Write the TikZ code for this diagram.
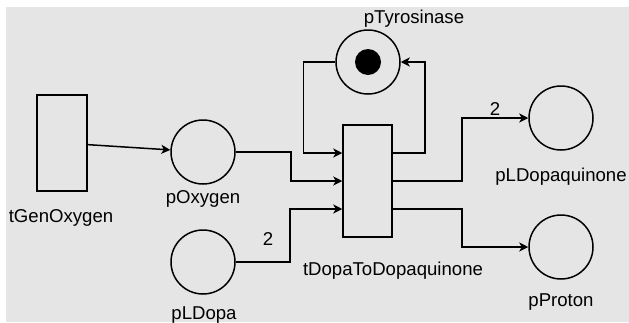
\documentclass[tikz,border=0pt]{standalone}
\usepackage{fontspec}
\setmainfont{Liberation Sans}
\usetikzlibrary{arrows.meta, positioning}

\begin{document}
\begin{tikzpicture}[x=1pt, y=-1pt,
    every node/.style={font=\fontsize{18.6}{22}\selectfont},
    place/.style={draw, circle, line width=1.5pt, minimum size=64pt, inner sep=0pt},
    trans/.style={draw, rectangle, line width=1.5pt, inner sep=0pt},
    token/.style={fill, circle, minimum size=26pt, inner sep=0pt},
    lbl/.style={anchor=base, inner sep=0pt},
    arc/.style={line width=1.5pt, -{Stealth[length=9pt, width=9pt, inset=2.5pt]}}]

    \useasboundingbox (0,0) rectangle (629,322);
    \fill[white] (0,0) rectangle (629,322);
    \fill[black!10] (6,7) rectangle (629,322);

    \node (tGen) [trans, minimum width=50pt, minimum height=96pt] at (62,143) {};
    \node (tDopa) [trans, minimum width=49pt, minimum height=112pt] at (367.5,181) {};
    \node (pOxygen) [place] at (203,152) {};
    \node (pLDopa) [place] at (203,262) {};
    \node (pTyr) [place] at (368,62) {};
    \node (tok) [token] at (pTyr.center) {};
    \node (pLDq) [place] at (561,118) {};
    \node (pProton) [place] at (561,247) {};

    \node (lGen) [lbl] at (61,222) {tGenOxygen};
    \node (lOxygen) [lbl] at (203,203) {pOxygen};
    \node (lLDopa) [lbl] at (204,319) {pLDopa};
    \node (lTyr) [lbl] at (414,23) {pTyrosinase};
    \node (lDopa) [lbl] at (393,275) {tDopaToDopaquinone};
    \node (lLDq) [lbl] at (561,181) {pLDopaquinone};
    \node (lProton) [lbl] at (561,306) {pProton};

    \draw[arc] (tGen) -- (pOxygen);
    \draw[arc] (pOxygen.east) -- ++(55,0) |- (tDopa.west);
    \draw[arc] (pLDopa.east) -- node[pos=0.6, above=16pt, inner sep=0pt]{2} ++(54,0) |- ([yshift=-28pt]tDopa.west);
    \draw[arc] (pTyr.west) -- ++(-32,0) |- ([yshift=28pt]tDopa.west);
    \draw[arc] ([yshift=28pt]tDopa.east) -- ++(32,0) |- (pTyr.east);
    \draw[arc] (tDopa.east) -- ++(69,0) |- node[pos=0.75, above=2pt, inner sep=0pt]{2} (pLDq.west);
    \draw[arc] ([yshift=-28pt]tDopa.east) -- ++(69,0) |- (pProton.west);

\end{tikzpicture}
\end{document}
